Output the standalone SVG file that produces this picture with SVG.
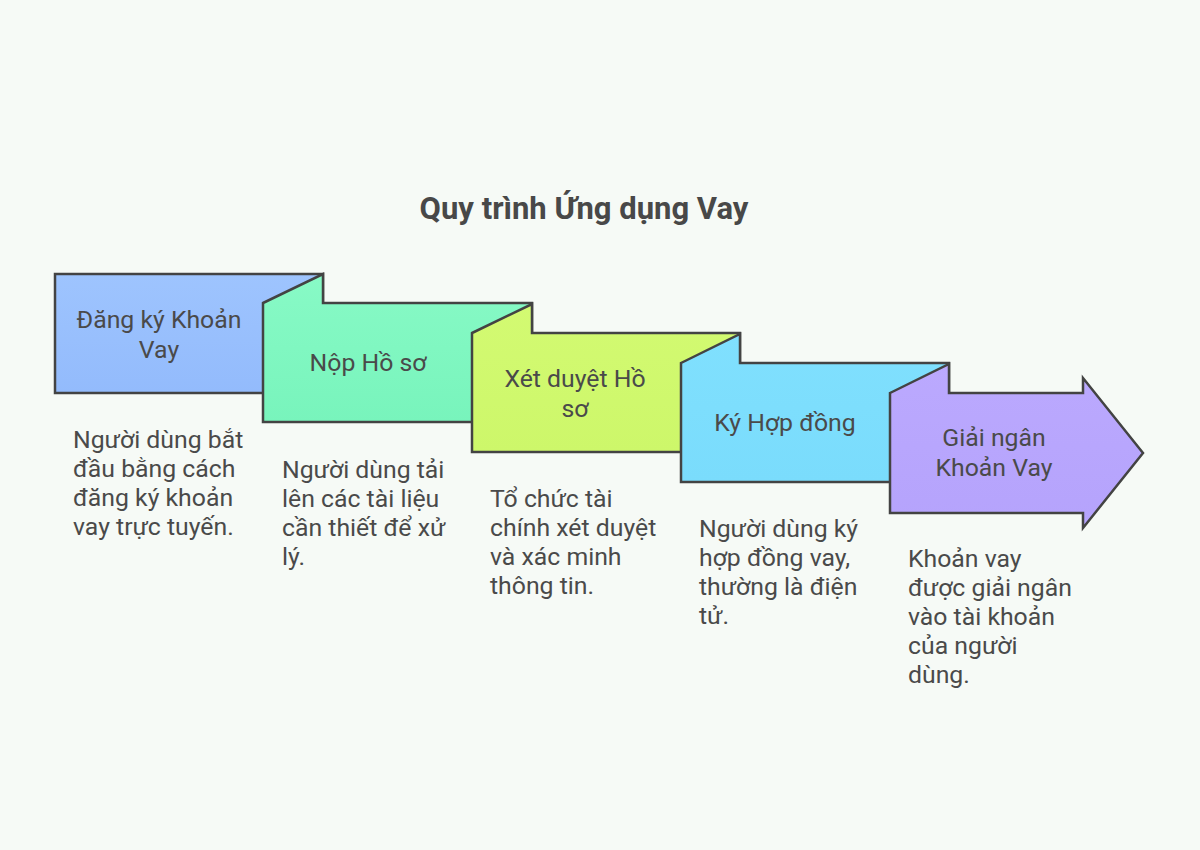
<svg xmlns="http://www.w3.org/2000/svg" width="1200" height="850" viewBox="0 0 1200 850">
<style>
.shape{stroke:#434343;stroke-width:2.5;stroke-linejoin:miter}
.lbl{font-family:Roboto,"Liberation Sans",sans-serif;font-size:24.8px;fill:#4a4a4a;text-anchor:middle}
.desc{font-family:Roboto,"Liberation Sans",sans-serif;font-size:24.8px;fill:#4a4a4a}
.title{font-family:Roboto,"Liberation Sans",sans-serif;font-size:31px;font-weight:bold;fill:#484848;text-anchor:middle}
</style>
<defs>
<linearGradient id="g1" x1="0" y1="0" x2="0" y2="1"><stop offset="0" stop-color="#9ec4fe"/><stop offset="1" stop-color="#93bbfc"/></linearGradient>
<linearGradient id="g2" x1="0" y1="0" x2="0" y2="1"><stop offset="0" stop-color="#88fac6"/><stop offset="1" stop-color="#78f4bc"/></linearGradient>
<linearGradient id="g3" x1="0" y1="0" x2="0" y2="1"><stop offset="0" stop-color="#d3fa72"/><stop offset="1" stop-color="#cdf76a"/></linearGradient>
<linearGradient id="g4" x1="0" y1="0" x2="0" y2="1"><stop offset="0" stop-color="#80e0fe"/><stop offset="1" stop-color="#7adcfc"/></linearGradient>
<linearGradient id="g5" x1="0" y1="0" x2="0" y2="1"><stop offset="0" stop-color="#bba9fe"/><stop offset="1" stop-color="#b5a3fc"/></linearGradient>
</defs>
<rect x="0" y="0" width="1200" height="850" fill="#f6faf6"/>
<text class="title" x="584" y="219">Quy trình Ứng dụng Vay</text>
<g id="connectors"></g>
<g id="step1">
<rect class="shape" x="55" y="274" width="268" height="119" fill="url(#g1)"/>
<text class="lbl" x="159" y="328">Đăng ký Khoản</text>
<text class="lbl" x="159" y="358">Vay</text>
<text class="desc" x="73" y="448">Người dùng bắt</text>
<text class="desc" x="73" y="477">đầu bằng cách</text>
<text class="desc" x="73" y="506">đăng ký khoản</text>
<text class="desc" x="73" y="535">vay trực tuyến.</text>
</g>
<g id="step2">
<polygon class="shape" points="263,303 323,274 323,303 532,303 532,422 263,422" fill="url(#g2)"/>
<text class="lbl" x="368" y="371">Nộp Hồ sơ</text>
<text class="desc" x="282" y="478">Người dùng tải</text>
<text class="desc" x="282" y="507">lên các tài liệu</text>
<text class="desc" x="282" y="536">cần thiết để xử</text>
<text class="desc" x="282" y="565">lý.</text>
</g>
<g id="step3">
<polygon class="shape" points="472,333 532,304 532,333 740,333 740,452 472,452" fill="url(#g3)"/>
<text class="lbl" x="575" y="387">Xét duyệt Hồ</text>
<text class="lbl" x="575" y="417">sơ</text>
<text class="desc" x="490" y="507">Tổ chức tài</text>
<text class="desc" x="490" y="536">chính xét duyệt</text>
<text class="desc" x="490" y="565">và xác minh</text>
<text class="desc" x="490" y="594">thông tin.</text>
</g>
<g id="step4">
<polygon class="shape" points="681,363 740,334 740,363 949,363 949,482 681,482" fill="url(#g4)"/>
<text class="lbl" x="785" y="431">Ký Hợp đồng</text>
<text class="desc" x="699" y="537">Người dùng ký</text>
<text class="desc" x="699" y="566">hợp đồng vay,</text>
<text class="desc" x="699" y="595">thường là điện</text>
<text class="desc" x="699" y="624">tử.</text>
</g>
<g id="step5">
<polygon class="shape" points="890,393 949,364 949,393 1083,393 1083,378 1143,453 1083,528 1083,513 890,513" fill="url(#g5)"/>
<text class="lbl" x="994" y="446">Giải ngân</text>
<text class="lbl" x="994" y="476">Khoản Vay</text>
<text class="desc" x="908" y="567">Khoản vay</text>
<text class="desc" x="908" y="596">được giải ngân</text>
<text class="desc" x="908" y="625">vào tài khoản</text>
<text class="desc" x="908" y="654">của người</text>
<text class="desc" x="908" y="683">dùng.</text>
</g>
</svg>
